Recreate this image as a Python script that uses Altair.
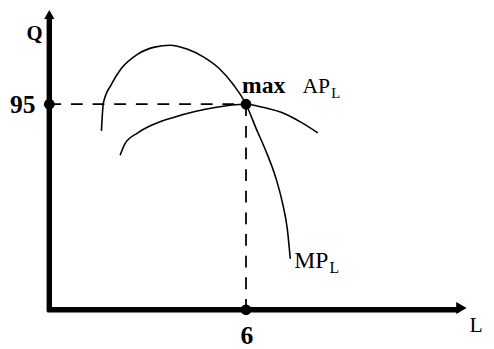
import altair as alt
import pandas as pd

# Marginal product of labour curve (L, Q)
mp_L = [1.59, 1.65, 1.89, 2.19, 2.70, 3.21, 3.69, 4.20, 4.71, 5.19, 5.61, 6.0, 6.3, 6.6, 6.9, 7.11, 7.26, 7.35]
mp_Q = [82.7, 95.6, 104.1, 111.4, 118.2, 121.4, 122.3, 120.5, 116.8, 111.4, 104.1, 95.0, 84.1, 73.6, 61.4, 49.5, 37.3, 23.6]
# Average product of labour curve
ap_L = [2.16, 2.31, 2.70, 3.21, 3.81, 4.41, 5.01, 6.0, 6.51, 7.2, 7.71, 8.19]
ap_Q = [71.4, 76.8, 81.8, 85.9, 89.0, 91.5, 93.4, 95.0, 93.6, 90.5, 86.4, 81.8]

# key values
max_L = 6
max_Q = 95
tick_labels = ["95", "6"]

X_DOM = [-1.26, 13.32]
Y_DOM = [-16.82, 138.18]
W, H = 486, 341

xs = alt.Scale(domain=X_DOM, nice=False, zero=False)
ys = alt.Scale(domain=Y_DOM, nice=False, zero=False)


def X(f="L"):
    return alt.X(f"{f}:Q", scale=xs, axis=None)


def Y(f="Q"):
    return alt.Y(f"{f}:Q", scale=ys, axis=None)


mp_df = pd.DataFrame({"L": mp_L, "Q": mp_Q, "i": range(len(mp_L))})
ap_df = pd.DataFrame({"L": ap_L, "Q": ap_Q, "i": range(len(ap_L))})

mp_line = alt.Chart(mp_df).mark_line(color="black", strokeWidth=1.6, interpolate="monotone").encode(
    x=X(), y=Y(), order="i:Q")
ap_line = alt.Chart(ap_df).mark_line(color="black", strokeWidth=1.6, interpolate="monotone").encode(
    x=X(), y=Y(), order="i:Q")

# axes
axes_df = pd.DataFrame({"L": [0, -0.06], "Q": [-0.9, 0], "L2": [0, 12.5], "Q2": [136.0, 0]})
axes = alt.Chart(axes_df).mark_rule(color="black", strokeWidth=5.5).encode(
    x=X(), y=Y(), x2="L2:Q", y2="Q2:Q")
arrow_up = alt.Chart(pd.DataFrame({"L": [0], "Q": [136.5]})).mark_point(
    shape="triangle-up", filled=True, color="black", size=110, opacity=1).encode(x=X(), y=Y())
arrow_right = alt.Chart(pd.DataFrame({"L": [12.57], "Q": [0.8]})).mark_point(
    shape="triangle-right", filled=True, color="black", size=150, opacity=1).encode(x=X(), y=Y())

# dashed guides
dash_df = pd.DataFrame({"L": [0, max_L], "Q": [max_Q, max_Q], "L2": [max_L, max_L], "Q2": [max_Q, 0]})
dashes = alt.Chart(dash_df).mark_rule(color="black", strokeWidth=1.8, strokeDash=[12, 10]).encode(
    x=X(), y=Y(), x2="L2:Q", y2="Q2:Q")

# points
pts_df = pd.DataFrame({"L": [0, max_L, max_L], "Q": [max_Q, max_Q, 0]})
pts = alt.Chart(pts_df).mark_point(filled=True, color="black", size=120, opacity=1).encode(x=X(), y=Y())

serif = "Liberation Serif"


def label(txt, L, Q, size, bold=False, align="left"):
    return alt.Chart(pd.DataFrame({"L": [L], "Q": [Q], "t": [txt]})).mark_text(
        font=serif, fontSize=size, fontWeight="bold" if bold else "normal",
        align=align, baseline="alphabetic", color="black").encode(x=X(), y=Y(), text="t:N")


texts = [
    label("Q", -0.45, 124.5, 21, bold=True, align="center"),
    label(tick_labels[0], -0.42, 91.0, 26, bold=True, align="right"),
    label(tick_labels[1], 6.03, -15.6, 26, bold=True, align="center"),
    label("L", 12.82, -10.4, 22),
    label("max", 5.88, 100.0, 24, bold=True),
    label("AP", 7.72, 100.0, 22),
    label("L", 8.6, 97.8, 15),
    label("MP", 7.47, 19.1, 24),
    label("L", 8.55, 16.8, 16),
]

chart = alt.layer(dashes, mp_line, ap_line, axes, arrow_up, arrow_right, pts, *texts).properties(
    width=W, height=H, autosize=alt.AutoSizeParams(type="none"), padding=0,
    background="white",
).configure_view(stroke=None)

chart.save("out.html", embed_options={"renderer": "svg", "actions": False})
